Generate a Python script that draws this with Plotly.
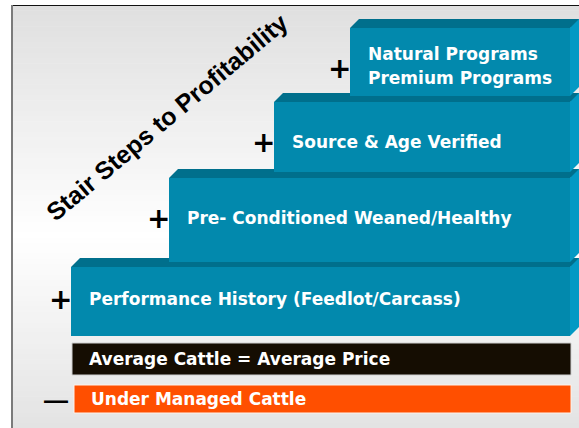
import plotly.graph_objects as go

# ---- content ----
step_labels = ["Performance History (Feedlot/Carcass)",
               "Pre- Conditioned Weaned/Healthy",
               "Source & Age Verified",
               "Natural Programs<br>Premium Programs"]
step_signs = ["+", "+", "+", "+"]
base_labels = ["Average Cattle = Average Price", "Under Managed Cattle"]
base_signs = ["", "\u2014"]
title_text = "Stair Steps to Profitability"

# ---- layout geometry (pixel-like axis units) ----
W, H = 579, 428
step_left = [71, 169, 274, 350]
step_top = [267, 178, 102, 28]
step_bottom = [336, 262, 172, 96]
step_text_y = [299, 218, 142, 66]
right_edge = 570
depth = 9
base_left = [72, 74]
base_top = [343, 385]
base_bottom = [375, 413]
base_fill = ["#150d02", "#ff4f00"]
base_line = ["#cfcfcf", "#fff2ea"]

FRONT = "#0289ad"
TOP = "#006f8c"
SIDE = "#0399c4"
FONT = "DejaVu Sans"
FS = 17
LINE_GAP = 24

fig = go.Figure()

# background gradient inside the frame
shapes = []
n = 80
y0f, y1f, ymid = 5, H, 235
for i in range(n):
    ya = y0f + (y1f - y0f) * i / n
    yb = y0f + (y1f - y0f) * (i + 1) / n
    yc = (ya + yb) / 2
    if yc < ymid:
        t = (yc - y0f) / (ymid - y0f)
        g = 223 + (255 - 223) * t
    else:
        t = (yc - ymid) / (y1f - ymid)
        g = 255 + (227 - 255) * t
    g = int(round(g))
    shapes.append(dict(type="rect", xref="x", yref="y", x0=11, x1=W, y0=ya, y1=yb + 0.5,
                       fillcolor=f"rgb({g},{g},{g})", line=dict(width=0), layer="below"))
shapes.append(dict(type="line", xref="x", yref="y", x0=11, x1=W, y0=5.5, y1=5.5,
                   line=dict(color="#111111", width=1)))
shapes.append(dict(type="line", xref="x", yref="y", x0=12, x1=12, y0=5, y1=H,
                   line=dict(color="#7b7b7b", width=2)))


def poly(xs, ys, color):
    fig.add_trace(go.Scatter(x=xs + [xs[0]], y=ys + [ys[0]], mode="lines", fill="toself",
                             fillcolor=color, line=dict(width=0, color=color),
                             hoverinfo="skip", showlegend=False))


for i, lab in enumerate(step_labels):
    L, T, B = step_left[i], step_top[i], step_bottom[i]
    poly([L, L + depth, right_edge + depth + 20, right_edge],
         [T, T - depth, T - depth, T], TOP)
    poly([right_edge, right_edge + depth, right_edge + depth, right_edge],
         [T, T - depth, B - depth, B], SIDE)
    poly([L, right_edge, right_edge, L], [T, T, B, B], FRONT)

annotations = []
for i, lab in enumerate(step_labels):
    L = step_left[i]
    lines = lab.split("<br>")
    k = len(lines)
    for j, line in enumerate(lines):
        yy = step_text_y[i] + (j - (k - 1) / 2) * LINE_GAP
        annotations.append(dict(x=L + 16, y=yy, xref="x", yref="y", text=line,
                                showarrow=False, xanchor="left", yanchor="middle", align="left",
                                font=dict(family=FONT, size=FS, color="white", weight="bold")))
    annotations.append(dict(x=L - 11, y=step_text_y[i] + (2 if k > 1 else 0), xref="x", yref="y",
                            text=step_signs[i], showarrow=False, xanchor="center", yanchor="middle",
                            font=dict(family="DejaVu Sans", size=28, color="black", weight="bold")))

for i, lab in enumerate(base_labels):
    shapes.append(dict(type="rect", xref="x", yref="y", x0=base_left[i], x1=right_edge + 1,
                       y0=base_top[i], y1=base_bottom[i], fillcolor=base_fill[i],
                       line=dict(color=base_line[i], width=1)))
    annotations.append(dict(x=base_left[i] + 15, y=(base_top[i] + base_bottom[i]) / 2, xref="x", yref="y",
                            text=lab, showarrow=False, xanchor="left", yanchor="middle",
                            font=dict(family=FONT, size=FS, color="white", weight="bold")))
    if base_signs[i]:
        annotations.append(dict(x=56, y=(base_top[i] + base_bottom[i]) / 2, xref="x", yref="y",
                                text=base_signs[i], showarrow=False, xanchor="center", yanchor="middle",
                                font=dict(family="Liberation Sans", size=24, color="black", weight="bold")))

annotations.append(dict(x=167, y=117, xref="x", yref="y", text=title_text, showarrow=False,
                        textangle=-40, xanchor="center", yanchor="middle",
                        font=dict(family="Liberation Sans", size=25, color="black", weight="bold")))

fig.update_layout(
    width=W, height=H, margin=dict(l=0, r=0, t=0, b=0),
    paper_bgcolor="white", plot_bgcolor="white",
    xaxis=dict(range=[0, W], visible=False, fixedrange=True),
    yaxis=dict(range=[H, 0], visible=False, fixedrange=True),
    shapes=shapes, annotations=annotations, showlegend=False,
)

fig.write_html("out.html", config={"displayModeBar": False},
               post_script="document.body.style.margin='0';")
